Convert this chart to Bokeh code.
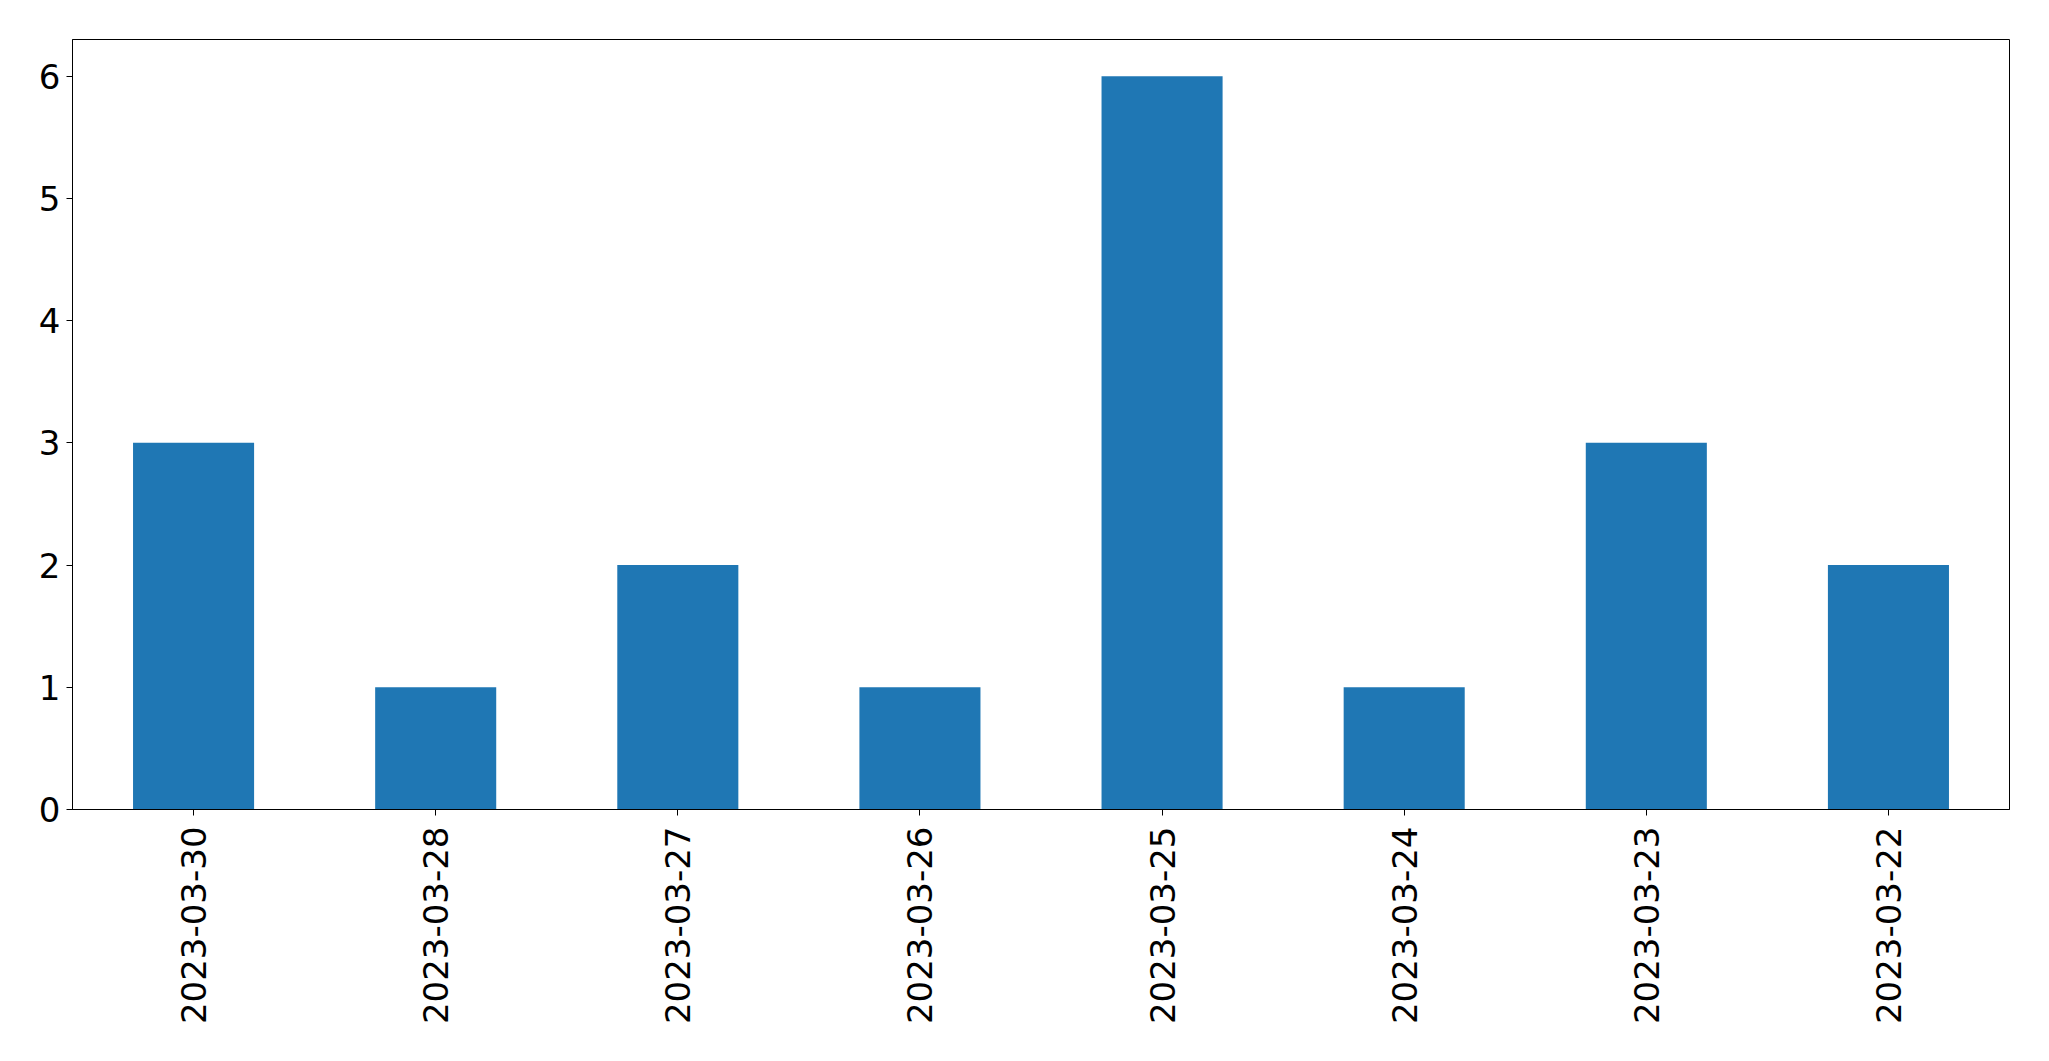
import math
from bokeh.plotting import figure
from bokeh.models import FactorRange, Range1d, FixedTicker, ColumnDataSource
from bokeh.embed import file_html
from bokeh.resources import INLINE

dates = ["2023-03-30", "2023-03-28", "2023-03-27", "2023-03-26",
         "2023-03-25", "2023-03-24", "2023-03-23", "2023-03-22"]
counts = [3, 1, 2, 1, 6, 1, 3, 2]
y_ticks = [0, 1, 2, 3, 4, 5, 6]

src = ColumnDataSource(data=dict(date=dates, count=counts))

p = figure(x_range=FactorRange(*dates, range_padding=0), y_range=Range1d(0, 6.3),
           width=2041, height=1053, output_backend="svg", toolbar_location=None,
           min_border_left=72, min_border_top=39, min_border_right=32, min_border_bottom=244)

p.vbar(x="date", top="count", width=0.5, source=src, color="#1f77b4", line_color=None)

p.xgrid.visible = False
p.ygrid.visible = False
p.outline_line_color = "black"
p.outline_line_width = 1
p.outline_line_alpha = 1

p.yaxis.ticker = FixedTicker(ticks=y_ticks)
p.yaxis.minor_tick_line_color = None

for ax in (p.xaxis[0], p.yaxis[0]):
    ax.axis_line_color = "black"
    ax.major_tick_line_color = "black"
    ax.major_tick_out = 6
    ax.major_tick_in = 0
    ax.major_label_text_font = "DejaVu Sans"
    ax.major_label_text_font_size = "34px"
    ax.major_label_text_color = "black"

p.xaxis.major_label_orientation = math.pi / 2
p.xaxis.major_label_standoff = 11
p.yaxis.major_label_standoff = 6

open("out.html", "w").write(file_html(p, INLINE))
